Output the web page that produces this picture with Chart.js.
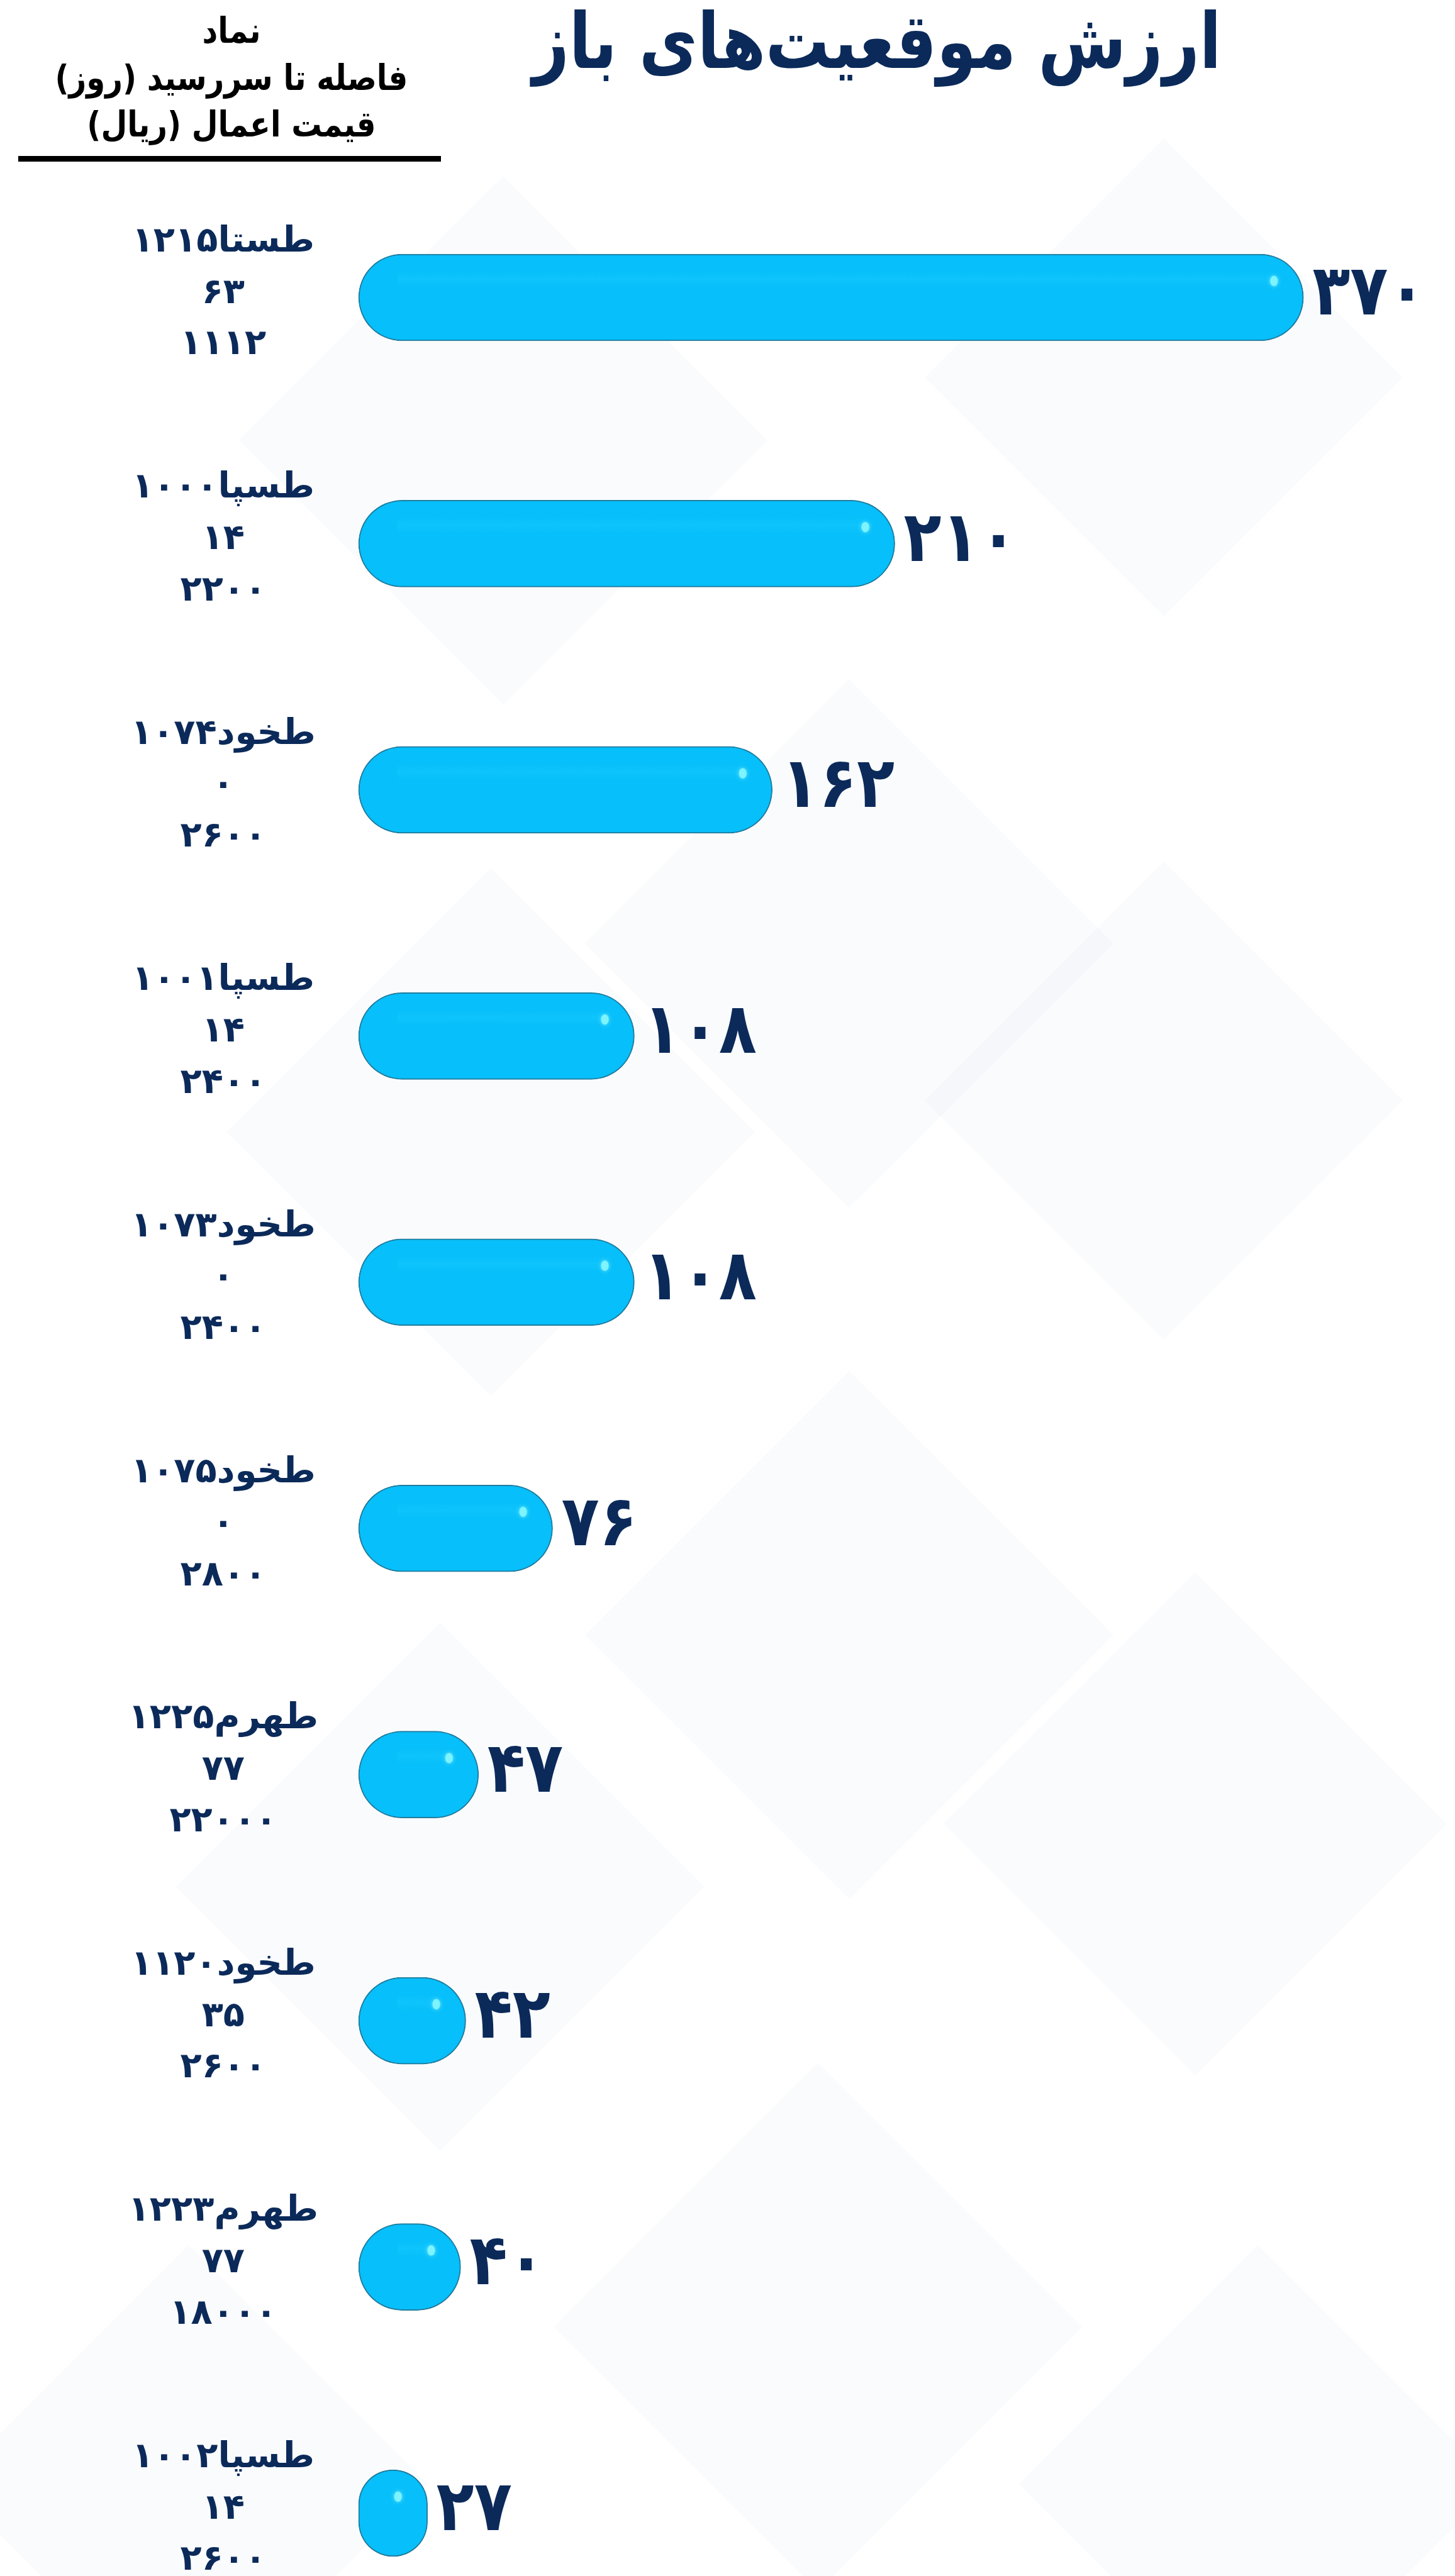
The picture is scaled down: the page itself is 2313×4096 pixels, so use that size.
<!DOCTYPE html>
<html><head><meta charset="utf-8">
<script src="https://cdn.jsdelivr.net/npm/chart.js@4/dist/chart.umd.min.js"></script>
<style>html,body{margin:0;padding:0;background:#fff;overflow:hidden}canvas{display:block;direction:rtl}</style>
</head><body>
<canvas id="c" width="2313" height="4096"></canvas>
<script>
const titleText = 'ارزش موقعیت‌های باز';
const headerLines = ['نماد', 'فاصله تا سررسید (روز)', 'قیمت اعمال (ریال)'];
const symbols = ['طستا۱۲۱۵', 'طسپا۱۰۰۰', 'طخود۱۰۷۴', 'طسپا۱۰۰۱', 'طخود۱۰۷۳', 'طخود۱۰۷۵', 'طهرم۱۲۲۵', 'طخود۱۱۲۰', 'طهرم۱۲۲۳', 'طسپا۱۰۰۲'];
const daysToMaturity = [63, 14, 0, 14, 0, 0, 77, 35, 77, 14];
const strikePrices = [1112, 2200, 2600, 2400, 2400, 2800, 22000, 2600, 18000, 2600];
const positionValues = [370, 210, 162, 108, 108, 76, 47, 42, 40, 27];

const fa = n => String(n).replace(/\d/g, d => '۰۱۲۳۴۵۶۷۸۹'[d]);
const categoryLabels = symbols.map((s, i) => [s, fa(daysToMaturity[i]), fa(strikePrices[i])]);

const NAVY = '#0b2a5a';
const FONT = "'DejaVu Sans', sans-serif";

function condensedText(ctx, text, x, y, sx) {
  ctx.save();
  ctx.translate(x, y);
  ctx.scale(sx, 1);
  ctx.fillText(text, 0, 0);
  ctx.restore();
}

const bgPlugin = {
  id: 'bg',
  beforeDraw(chart) {
    const ctx = chart.ctx;
    ctx.save();
    ctx.fillStyle = '#ffffff';
    ctx.fillRect(0, 0, chart.width, chart.height);
    ctx.fillStyle = 'rgba(228,233,242,0.18)';
    const diamonds = [[800, 700, 420], [1850, 600, 380], [1350, 1500, 420], [1850, 1750, 380], [780, 1800, 420],
      [1350, 2600, 420], [1900, 2900, 400], [700, 3000, 420], [1300, 3700, 420], [2000, 3950, 380], [300, 3950, 380]];
    diamonds.forEach(([x, y, r]) => {
      ctx.beginPath();
      ctx.moveTo(x, y - r); ctx.lineTo(x + r, y); ctx.lineTo(x, y + r); ctx.lineTo(x - r, y); ctx.closePath();
      ctx.fill();
    });
    ctx.restore();
  }
};

const headerPlugin = {
  id: 'header',
  afterDraw(chart) {
    const ctx = chart.ctx;
    ctx.save();
    ctx.textAlign = 'center';
    ctx.textBaseline = 'alphabetic';
    ctx.fillStyle = NAVY;
    ctx.font = "bold 122px " + FONT;
    condensedText(ctx, titleText, 1394, 108, 0.83);
    ctx.fillStyle = '#000000';
    ctx.font = "bold 56px " + FONT;
    const ys = [68, 143, 217];
    headerLines.forEach((t, i) => condensedText(ctx, t, 368, ys[i], 0.86));
    ctx.fillRect(29, 248, 672, 9);
    ctx.restore();
  }
};

const glossPlugin = {
  id: 'gloss',
  afterDatasetsDraw(chart) {
    const ctx = chart.ctx;
    const meta = chart.getDatasetMeta(0);
    ctx.save();
    meta.data.forEach((el, i) => {
      const p = el.getProps(['x', 'y', 'base', 'height'], true);
      const h = p.height;
      const w = p.x - p.base;
      if (w > h * 0.9) {
        const bx = p.base + h * 0.45, bw = w - h * 0.8;
        if (bw > 0) {
          const g = ctx.createLinearGradient(0, p.y - h * 0.3, 0, p.y - h * 0.12);
          g.addColorStop(0, 'rgba(20,200,255,0)');
          g.addColorStop(0.5, 'rgba(20,200,255,0.55)');
          g.addColorStop(1, 'rgba(20,200,255,0)');
          ctx.fillStyle = g;
          ctx.fillRect(bx, p.y - h * 0.3, bw, h * 0.18);
        }
      }
      ctx.beginPath();
      ctx.fillStyle = 'rgba(130,245,255,0.9)';
      ctx.shadowColor = 'rgba(130,245,255,0.9)';
      ctx.shadowBlur = 6;
      const dx = Math.max(p.base + w * 0.5, p.x - h * 0.34);
      ctx.ellipse(dx, p.y - h * 0.19, h * 0.045, h * 0.06, 0, 0, Math.PI * 2);
      ctx.fill();
      ctx.shadowBlur = 0;
      ctx.fillStyle = NAVY;
      ctx.font = "bold 112px " + FONT;
      ctx.textAlign = 'left';
      ctx.textBaseline = 'middle';
      condensedText(ctx, fa(positionValues[i]), p.x + 14, p.y - 2, 0.88);
    });
    ctx.restore();
  }
};

new Chart(document.getElementById('c'), {
  type: 'bar',
  data: {
    labels: categoryLabels,
    datasets: [{
      data: positionValues,
      backgroundColor: '#07bffa',
      borderColor: '#1f7c9e',
      borderWidth: 2,
      borderRadius: 70,
      borderSkipped: false,
      barThickness: 138,
      clip: false
    }]
  },
  options: {
    indexAxis: 'y',
    responsive: false,
    animation: false,
    devicePixelRatio: 1,
    layout: { padding: { left: 0, right: 119, top: 473, bottom: 100 } },
    plugins: { legend: { display: false }, tooltip: { enabled: false }, title: { display: false } },
    scales: {
      x: { display: false, min: 0, max: 400 },
      y: {
        offset: false,
        grid: { display: false },
        border: { display: false },
        afterFit(scale) { scale.width = 570; scale.paddingTop = 0; scale.paddingBottom = 0; },
        ticks: {
          crossAlign: 'center',
          padding: 56,
          labelOffset: -6,
          color: NAVY,
          font: { family: FONT, size: 56, weight: 'bold', lineHeight: 1.46 }
        }
      }
    }
  },
  plugins: [bgPlugin, glossPlugin, headerPlugin]
});
</script>
</body></html>
